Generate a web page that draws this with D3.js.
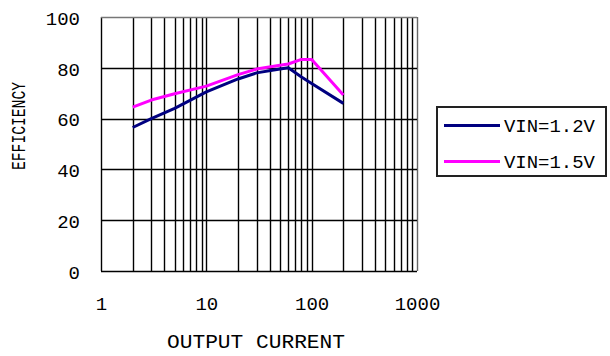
<!DOCTYPE html>
<html>
<head>
<meta charset="utf-8">
<script src="https://cdn.jsdelivr.net/npm/d3@7"></script>
<style>
  html, body { margin: 0; padding: 0; background: #fff; }
  svg { display: block; }
</style>
</head>
<body>
<svg id="chart" width="610" height="356"></svg>
<script>
// ---- data ----
const currents = [2, 3, 5, 10, 20, 30, 50, 60, 80, 100, 200];
const vin12 = [56.5, 60.0, 64.0, 70.5, 75.6, 78.0, 79.5, 80.0, 76.4, 73.8, 66.0];
const vin15 = [64.5, 67.3, 69.8, 72.8, 77.3, 79.5, 81.0, 81.5, 83.3, 83.3, 69.3];
const seriesNames = ["VIN=1.2V", "VIN=1.5V"];
const seriesColors = ["#000080", "#ff00ff"];
const xTicks = [1, 10, 100, 1000];
const yTicks = [0, 20, 40, 60, 80, 100];
const xTitle = "OUTPUT CURRENT";
const yTitle = "EFFICIENCY";

const FONT = "'Liberation Mono', 'Courier New', monospace";
const svg = d3.select("#chart");
const L = 101, R = 417, T = 17, B = 271;

const x = d3.scaleLog().domain([1, 1000]).range([L, R]);
const y = d3.scaleLinear().domain([0, 100]).range([B, T]);

// vertical grid lines (log minor)
const vGrid = [];
for (let k = 0; k < 3; k++) for (let d = 1; d <= 9; d++) vGrid.push(d * Math.pow(10, k));
vGrid.push(1000);
svg.append("g").selectAll("line").data(vGrid).join("line")
  .attr("x1", d => Math.round(x(d)) + 0.5).attr("x2", d => Math.round(x(d)) + 0.5)
  .attr("y1", T).attr("y2", B)
  .attr("stroke", d => d === 1000 ? "#666" : "#000")
  .attr("stroke-width", 1.4);

// horizontal grid lines
svg.append("g").selectAll("line").data(yTicks).join("line")
  .attr("x1", L).attr("x2", R)
  .attr("y1", d => Math.round(y(d)) + 0.5).attr("y2", d => Math.round(y(d)) + 0.5)
  .attr("stroke", d => d === 100 ? "#777" : "#000")
  .attr("stroke-width", 1.4);

// axes (labels only)
const gx = svg.append("g").attr("transform", `translate(0,${B})`)
  .call(d3.axisBottom(x).tickValues(xTicks).tickFormat(d3.format("d")).tickSize(0).tickPadding(26));
gx.select(".domain").remove();
gx.attr("font-family", FONT).attr("font-size", 19);
gx.selectAll("text").attr("fill", "#000");

const gy = svg.append("g").attr("transform", `translate(${L},0)`)
  .call(d3.axisLeft(y).tickValues(yTicks).tickSize(0).tickPadding(21));
gy.select(".domain").remove();
gy.attr("font-family", FONT).attr("font-size", 19);
gy.selectAll("text").attr("fill", "#000").attr("dy", "0.38em");

// titles
svg.append("text").text(xTitle)
  .attr("x", 256).attr("y", 348)
  .attr("text-anchor", "middle")
  .attr("font-family", FONT).attr("font-size", 20)
  .attr("textLength", 178).attr("lengthAdjust", "spacingAndGlyphs");

svg.append("text").text(yTitle)
  .attr("transform", "translate(25,126) rotate(-90)")
  .attr("text-anchor", "middle")
  .attr("font-family", FONT).attr("font-size", 20)
  .attr("textLength", 88).attr("lengthAdjust", "spacingAndGlyphs");

// series lines
const line = d3.line().x(d => x(d[0])).y(d => y(d[1]));
[vin12, vin15].forEach((vals, i) => {
  svg.append("path")
    .datum(currents.map((c, j) => [c, vals[j]]))
    .attr("d", line)
    .attr("fill", "none")
    .attr("stroke", seriesColors[i])
    .attr("stroke-width", 3)
    .attr("stroke-linejoin", "round");
});

// legend
const lg = svg.append("g");
lg.append("rect").attr("x", 437).attr("y", 107).attr("width", 169).attr("height", 69)
  .attr("fill", "#fff").attr("stroke", "#222").attr("stroke-width", 2);
seriesNames.forEach((name, i) => {
  const ly = [125.5, 161.5][i];
  lg.append("line").attr("x1", 444).attr("x2", 500).attr("y1", ly).attr("y2", ly)
    .attr("stroke", seriesColors[i]).attr("stroke-width", 3);
  lg.append("text").text(name)
    .attr("x", 504).attr("y", ly).attr("dy", "0.36em")
    .attr("font-family", FONT).attr("font-size", 19)
    .attr("textLength", 91).attr("lengthAdjust", "spacingAndGlyphs");
});
</script>
</body>
</html>
